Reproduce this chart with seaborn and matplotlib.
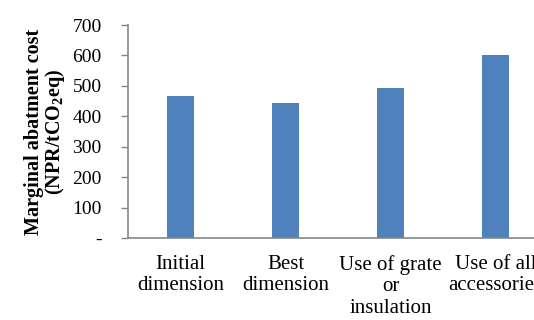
import matplotlib
matplotlib.use("Agg")
import matplotlib.pyplot as plt
import seaborn as sns
import pandas as pd

categories = ["Initial\ndimension", "Best\ndimension", "Use of grate\nor\ninsulation", "Use of all\naccessories"]
values = [467, 444, 492, 600]
yticks = [0, 100, 200, 300, 400, 500, 600, 700]
ytick_labels = ["-", "100", "200", "300", "400", "500", "600", "700"]

sns.set_theme(style="white")
plt.rcParams["font.family"] = ["Liberation Serif", "DejaVu Serif"]
plt.rcParams["mathtext.fontset"] = "custom"
plt.rcParams["mathtext.rm"] = "Liberation Serif"
plt.rcParams["mathtext.bf"] = "Liberation Serif:bold"

df = pd.DataFrame({"cat": categories, "val": values})

fig = plt.figure(figsize=(5.34, 3.2), dpi=100)
ax = fig.add_axes([128/534, 1-238/320, 420/534, (238-25)/320])
sns.barplot(data=df, x="cat", y="val", color="#4F81BD", width=0.25,
            saturation=1, edgecolor="none", ax=ax)

ax.set_xlim(-0.5, 3.5)
ax.set_ylim(0, 700)
ax.set_yticks(yticks)
ax.set_yticklabels(ytick_labels, fontsize=14, color="black")
ax.tick_params(axis="y", length=5, width=1, color="#868686", pad=14, direction="out", left=True)
ax.tick_params(axis="x", length=0, pad=12)
for lab in ax.get_xticklabels():
    lab.set_fontsize(15)
    lab.set_linespacing(1.2)
    lab.set_color("black")

ax.set_xlabel("")
ax.set_ylabel("Marginal abatment cost\n(NPR/tCO$_\\mathbf{2}$eq)", fontsize=14.5, fontweight="bold", color="black", linespacing=0.92)
ax.yaxis.set_label_coords(-0.145, 0.5)

for s in ["top", "right"]:
    ax.spines[s].set_visible(False)
for s in ["left", "bottom"]:
    ax.spines[s].set_color("#868686")
    ax.spines[s].set_linewidth(1.2)

fig.savefig("out.png", dpi=100)
